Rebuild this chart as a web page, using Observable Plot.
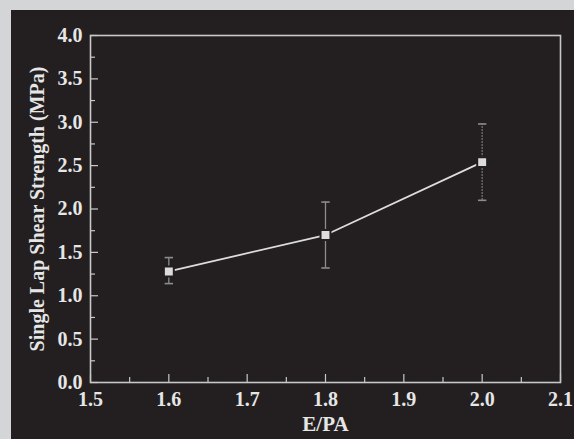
<!DOCTYPE html>
<html>
<head>
<meta charset="utf-8">
<script src="https://cdn.jsdelivr.net/npm/d3@7"></script>
<script src="https://cdn.jsdelivr.net/npm/@observablehq/plot@0.6"></script>
<style>
  html, body { margin: 0; padding: 0; background: #d4d5d7; width: 574px; height: 439px; overflow: hidden; }
  #panel { position: absolute; left: 11px; top: 10px; width: 563px; height: 429px; background: #231f20; }
</style>
</head>
<body>
<div id="panel"></div>
<script>
const epa = [1.6, 1.8, 2.0];
const strength = [1.28, 1.70, 2.54];
const errLow = [1.14, 1.32, 2.10];
const errHigh = [1.44, 2.08, 2.98];
const errStyle = ["solid", "solid", "dotted"];
const xMajor = [1.5, 1.6, 1.7, 1.8, 1.9, 2.0, 2.1];
const xMinor = [1.55, 1.65, 1.75, 1.85, 1.95, 2.05];
const yMajor = [0, 0.5, 1.0, 1.5, 2.0, 2.5, 3.0, 3.5, 4.0];
const yMinor = [0.25, 0.75, 1.25, 1.75, 2.25, 2.75, 3.25, 3.75];
const xTitle = "E/PA";
const yTitle = "Single Lap Shear Strength (MPa)";

const data = epa.map((x, i) => ({x, y: strength[i], lo: errLow[i], hi: errHigh[i], style: errStyle[i]}));
const solid = data.filter(d => d.style === "solid");
const dotted = data.filter(d => d.style === "dotted");

const cap = {draw(ctx, size) { const r = Math.sqrt(size / Math.PI); ctx.moveTo(-r, 0); ctx.lineTo(r, 0); }};
const fontFamily = "'Liberation Serif', 'Times New Roman', serif";
const tc = "#e6e6e6";
const errColor = "#8c8c8c";
const axisStroke = "#c8c8c8";

const chart = Plot.plot({
  width: 563,
  height: 429,
  marginLeft: 79,
  marginRight: 14,
  marginTop: 25,
  marginBottom: 57,
  style: {background: "transparent", color: tc, fontFamily, fontSize: "20px", fontWeight: "bold"},
  x: {domain: [1.5, 2.1], axis: null},
  y: {domain: [0, 4], axis: null},
  marks: [
    Plot.axisX({ticks: xMinor, label: null, tickSize: -5, tickFormat: () => "", stroke: axisStroke, strokeWidth: 1.2}),
    Plot.axisX({ticks: xMajor, label: null, tickSize: -8, tickFormat: () => "", stroke: axisStroke, strokeWidth: 1.2}),
    Plot.axisX({ticks: xMajor, label: null, tickSize: 0, tickPadding: 9, tickFormat: d3.format(".1f"), fill: tc, fontSize: 20, fontWeight: "bold"}),
    Plot.axisY({ticks: yMinor, label: null, tickSize: -5, tickFormat: () => "", stroke: axisStroke, strokeWidth: 1.2}),
    Plot.axisY({ticks: yMajor, label: null, tickSize: -8, tickFormat: () => "", stroke: axisStroke, strokeWidth: 1.2}),
    Plot.axisY({ticks: yMajor, label: null, tickSize: 0, tickPadding: 8, tickFormat: d3.format(".1f"), fill: tc, fontSize: 20, fontWeight: "bold"}),
    Plot.frame({stroke: axisStroke, strokeWidth: 1.6}),
    Plot.ruleX(solid, {x: "x", y1: "lo", y2: "hi", stroke: errColor, strokeWidth: 1.3}),
    Plot.ruleX(dotted, {x: "x", y1: "lo", y2: "hi", stroke: errColor, strokeWidth: 1.3, strokeDasharray: "1.5,1.5"}),
    Plot.dot(data, {x: "x", y: "lo", symbol: cap, r: 4.2, stroke: errColor, strokeWidth: 1.6}),
    Plot.dot(data, {x: "x", y: "hi", symbol: cap, r: 4.2, stroke: errColor, strokeWidth: 1.6}),
    Plot.line(data, {x: "x", y: "y", stroke: "#dcdcdc", strokeWidth: 1.8}),
    Plot.dot(data, {x: "x", y: "y", symbol: "square", r: 5.6, fill: "#dcdcdc", stroke: "#231f20", strokeWidth: 2}),
    Plot.text([xTitle], {frameAnchor: "bottom", dy: 48, text: d => d, fill: tc, fontSize: 21, fontWeight: "bold"}),
    Plot.text([yTitle], {frameAnchor: "left", textAnchor: "middle", dx: -53, rotate: -90, text: d => d, fill: tc, fontSize: 20, fontWeight: "bold"})
  ]
});
document.getElementById("panel").appendChild(chart);
</script>
</body>
</html>
